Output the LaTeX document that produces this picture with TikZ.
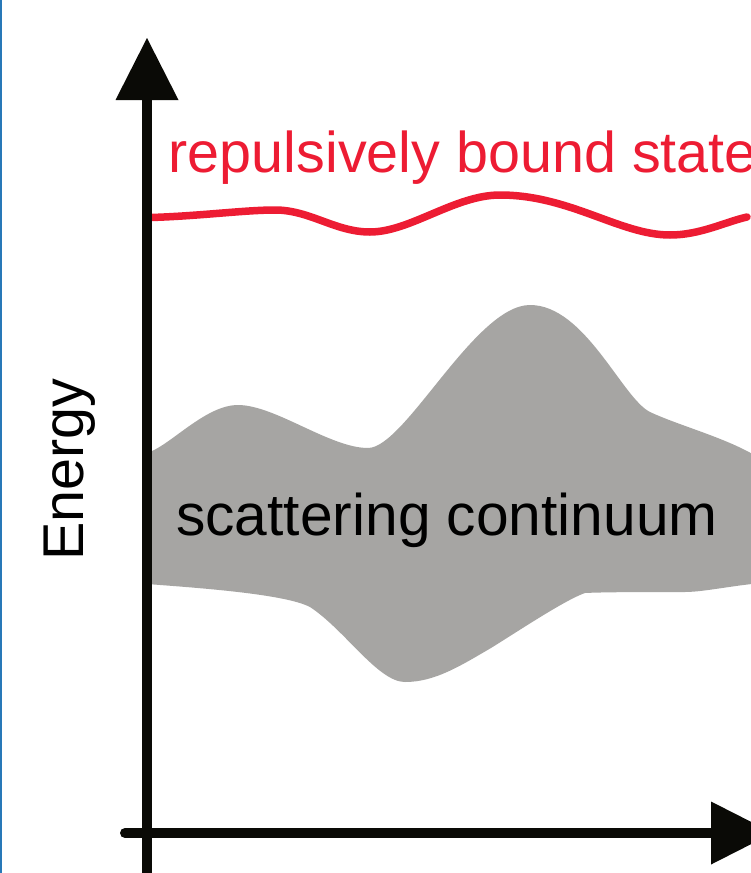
\documentclass[tikz,border=0pt]{standalone}
\usepackage{fontspec}
\setmainfont{Liberation Sans}
\definecolor{bsred}{RGB}{237,28,51}
\definecolor{contgray}{RGB}{166,165,163}
\definecolor{edgeblue}{RGB}{40,120,184}
\definecolor{axisblack}{RGB}{10,10,6}
\begin{document}
\begin{tikzpicture}[x=1pt,y=-1pt,
  axisline/.style={line width=10pt, draw=axisblack},
  headfill/.style={fill=axisblack},
  bigtext/.style={inner sep=0pt, font=\fontsize{57.5}{69}\selectfont},
  boundline/.style={draw=bsred, line width=7.5pt, line cap=round},
  contfill/.style={fill=contgray}]
\useasboundingbox (0,0) rectangle (751,873);
\clip (0,0) rectangle (751,873);
\fill[white] (0,0) rectangle (751,873);
\draw[edgeblue, line width=1.7pt] (0.85,0) -- (0.85,873);

% scattering continuum
\fill[contfill] (147,453)
  .. controls (170,446) and (205,405) .. (238,405)
  .. controls (275,405) and (330,448) .. (368,448)
  .. controls (405,448) and (475,305) .. (530,305)
  .. controls (585,305) and (622,398) .. (650,412)
  .. controls (682,427) and (735,440) .. (765,462)
  -- (765,583)
  .. controls (740,584) and (705,592) .. (685,592)
  .. controls (650,592) and (605,592) .. (585,593)
  .. controls (565,600) and (520,630) .. (491,648)
  .. controls (460,666) and (435,682) .. (405,682)
  .. controls (378,682) and (345,630) .. (310,607)
  .. controls (285,594) and (200,588) .. (147,584)
  -- cycle;

% repulsively bound state
\draw[boundline] (151,217.5)
  .. controls (200,216) and (245,210) .. (275,210)
  .. controls (310,210) and (335,232) .. (370,232)
  .. controls (410,232) and (455,195) .. (500,195)
  .. controls (570,195) and (620,235) .. (670,235)
  .. controls (700,235) and (725,222) .. (747,217);

\node[bigtext, text=bsred, anchor=base west] (bound) at (168.5,172) {repulsively bound state};
\node[bigtext, text=black, anchor=base west, font=\fontsize{58.7}{70}\selectfont] (scat) at (176,535) {scattering continuum};
\node[bigtext, text=black, rotate=90, anchor=base west] (energy) at (83,561) {Energy};

% axes
\coordinate (ybot) at (147,880);
\coordinate (ybase) at (147,100);
\coordinate (ytip) at (147,38);
\coordinate (xleft) at (125,833);
\coordinate (xbase) at (711,833);
\coordinate (xtip) at (773,833);
\draw[axisline] (ybot) -- (ybase);
\draw[axisline, line cap=round] (xleft) -- (xbase);
\fill[headfill] (ytip) -- ++(-31.5,62) -- ++(63,0) -- cycle;
\fill[headfill] (xtip) -- ++(-62,-31.5) -- ++(0,63) -- cycle;
\end{tikzpicture}
\end{document}
